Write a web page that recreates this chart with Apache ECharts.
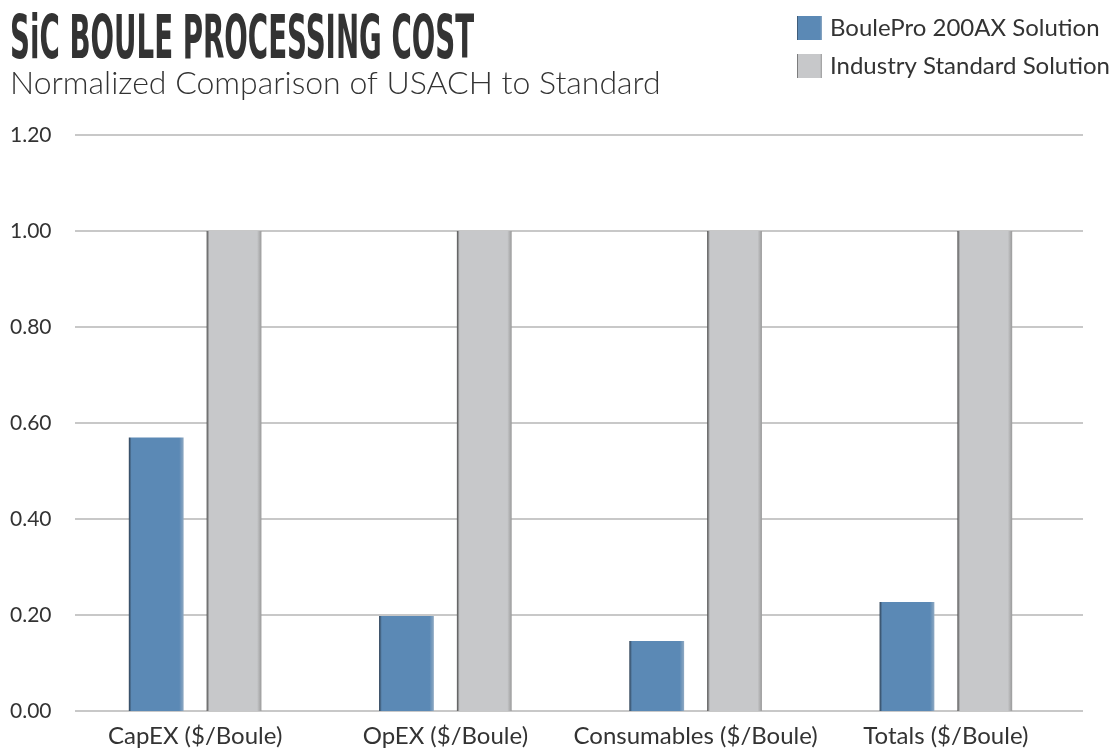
<!DOCTYPE html>
<html><head><meta charset="utf-8">
<script src="https://cdn.jsdelivr.net/npm/echarts@6/dist/echarts.min.js"></script>
<style>html,body{margin:0;padding:0;background:#fff}#c{width:1119px;height:749px}</style>
</head><body><div id="c"></div>
<script>
const categories = ['CapEX ($/Boule)', 'OpEX ($/Boule)', 'Consumables ($/Boule)', 'Totals ($/Boule)'];
const boulePro = [0.57, 0.198, 0.146, 0.227];
const industry = [1.0, 1.0, 1.0, 1.0];
const seriesNames = ['BoulePro 200AX Solution', 'Industry Standard Solution'];
const titleText = 'SiC BOULE PROCESSING COST';
const subtitleText = 'Normalized Comparison of USACH to Standard';

const font = 'Lato, "Open Sans", sans-serif';
function grad(dark, main, light) {
  return new echarts.graphic.LinearGradient(0, 0, 1, 0, [
    {offset: 0, color: dark}, {offset: 0.05, color: main},
    {offset: 0.92, color: main}, {offset: 1, color: light}
  ]);
}
const chart = echarts.init(document.getElementById('c'));
chart.setOption({
  animation: false,
  graphic: [
    {type: 'text', x: 10, y: 12, scaleX: 0.513, originX: 0,
     style: {text: titleText, font: 'bold 60px "DejaVu Sans Condensed", "DejaVu Sans", sans-serif', fill: '#333'}},
    {type: 'text', x: 10, y: 68,
     style: {text: subtitleText, font: '300 32px ' + font, fill: '#333'}}
  ],
  legend: {
    left: 797, top: 16, orient: 'vertical', itemWidth: 25, itemHeight: 24, itemGap: 14, padding: 0,
    textStyle: {fontFamily: font, fontSize: 24, color: '#333', padding: [0, 0, 0, 3]},
    data: seriesNames.map(n => ({name: n, icon: 'rect'}))
  },
  grid: [
    {left: 75, right: 36, top: 135, bottom: 38},
    {left: 70, right: 48, top: 135, bottom: 38}
  ],
  xAxis: [
    {type: 'category', gridIndex: 0, data: categories, show: false},
    {type: 'category', gridIndex: 1, data: categories,
     axisLine: {show: false}, axisTick: {show: false},
     axisLabel: {interval: 0, fontFamily: font, fontSize: 24, color: '#333', margin: 13}}
  ],
  yAxis: [
    {type: 'value', gridIndex: 0, min: 0, max: 1.2, interval: 0.2,
     axisLine: {show: false}, axisTick: {show: false},
     axisLabel: {formatter: v => v.toFixed(2), align: 'left', margin: 65, fontFamily: font, fontSize: 21, color: '#333'},
     splitLine: {lineStyle: {color: '#c8c8c8', width: 2}}},
    {type: 'value', gridIndex: 1, min: 0, max: 1.2, interval: 0.2, show: false}
  ],
  series: [
    {name: seriesNames[0], type: 'bar', xAxisIndex: 1, yAxisIndex: 1, data: boulePro,
     barGap: '42%', barCategoryGap: '47%', color: '#5b89b5',
     itemStyle: {color: grad('#2d3f52', '#5b89b5', '#8fa9c2')}},
    {name: seriesNames[1], type: 'bar', xAxisIndex: 1, yAxisIndex: 1, data: industry,
     color: '#c7c8ca',
     itemStyle: {color: grad('#4a4a4a', '#c7c8ca', '#9a9a9a')}}
  ]
});
</script></body></html>
